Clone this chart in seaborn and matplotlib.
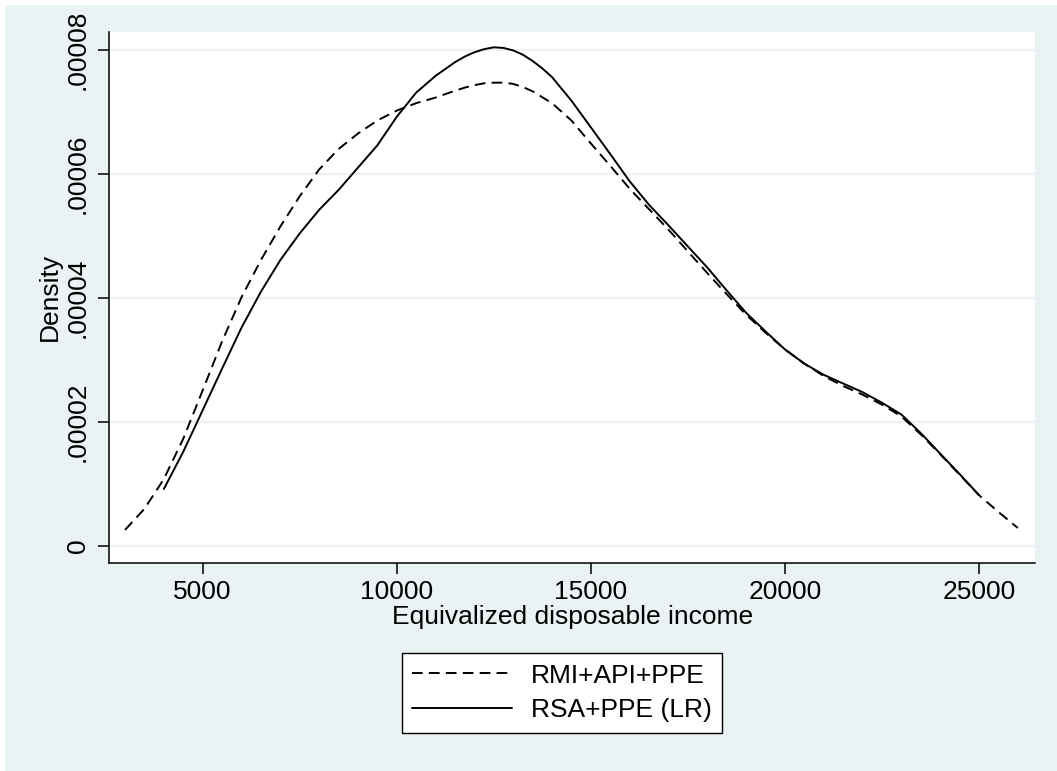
import numpy as np
import pandas as pd
import matplotlib
matplotlib.use('Agg')
import matplotlib.pyplot as plt
from matplotlib.patches import Rectangle
from matplotlib.lines import Line2D
import seaborn as sns

# kernel density estimates (density in 1e-6)
rmi_income = [3000, 3500, 4000, 4500, 5000, 5500, 6000, 6500, 7000, 7500,
              8000, 8500, 9000, 9500, 10000, 10500, 11000, 11500, 11750, 12000,
              12250, 12500, 12750, 13000, 13250, 13500, 14000, 14500, 15000, 15500,
              16000, 16500, 17000, 17500, 18000, 18500, 19000, 19500, 20000, 20500,
              21000, 21500, 22000, 22500, 23000, 23500, 24000, 24500, 25000, 25500,
              26000]
rmi_density = [2.6, 6.0, 10.8, 17.3, 25.1, 33.0, 40.1, 46.1, 51.5, 56.4,
               60.7, 64.0, 66.5, 68.6, 70.2, 71.4, 72.3, 73.4, 73.9, 74.3,
               74.6, 74.7, 74.7, 74.5, 74.0, 73.3, 71.4, 68.6, 64.9, 61.3,
               57.6, 54.3, 51.0, 47.5, 44.0, 40.6, 37.3, 34.4, 31.7, 29.4,
               27.4, 25.8, 24.4, 22.8, 20.9, 18.0, 14.8, 11.5, 8.2, 5.5,
               2.9]

rsa_income = [4000, 4500, 5000, 5500, 6000, 6500, 7000, 7500, 8000, 8500,
              9000, 9500, 10000, 10500, 11000, 11500, 11750, 12000, 12250, 12500,
              12750, 13000, 13250, 13500, 13750, 14000, 14500, 15000, 15500, 16000,
              16500, 17000, 17500, 18000, 18500, 19000, 19500, 20000, 20500, 21000,
              21500, 22000, 22500, 23000, 23500, 24000, 24500, 25000]
rsa_density = [9.2, 15.2, 21.9, 28.6, 35.2, 41.0, 46.1, 50.4, 54.2, 57.4,
               61.0, 64.6, 69.2, 73.1, 75.8, 78.0, 78.9, 79.6, 80.1, 80.4,
               80.3, 79.9, 79.2, 78.2, 77.0, 75.6, 71.8, 67.5, 63.2, 58.8,
               55.0, 51.7, 48.3, 44.9, 41.2, 37.6, 34.6, 31.7, 29.4, 27.6,
               26.2, 24.8, 23.1, 21.2, 18.2, 14.9, 11.6, 8.2]

series_names = ['RMI+API+PPE', 'RSA+PPE (LR)']
x_ticks = [5000, 10000, 15000, 20000, 25000]
y_ticks = [0, 0.00002, 0.00004, 0.00006, 0.00008]
y_tick_labels = ['0', '.00002', '.00004', '.00006', '.00008']

df = pd.concat([
    pd.DataFrame({'income': rmi_income, 'density': np.array(rmi_density) * 1e-6,
                  'series': series_names[0]}),
    pd.DataFrame({'income': rsa_income, 'density': np.array(rsa_density) * 1e-6,
                  'series': series_names[1]}),
])

sns.set_style('white')
plt.rcParams['font.family'] = ['Liberation Sans', 'DejaVu Sans']
plt.rcParams['text.color'] = 'black'
plt.rcParams['axes.labelcolor'] = 'black'
plt.rcParams['xtick.color'] = 'black'
plt.rcParams['ytick.color'] = 'black'

bg = '#eaf2f3'
dash = (5.5, 3.2)
fs = 19

fig = plt.figure(figsize=(10.57, 7.71), dpi=100, facecolor='white')
fig.patches.append(Rectangle((5 / 1057, -0.01), 1.0, 1.01 - 5 / 771,
                             transform=fig.transFigure, facecolor=bg,
                             edgecolor='none', zorder=-10))

ax = fig.add_axes([109.3 / 1057, 1 - 563 / 771, (1035 - 109.3) / 1057, (563 - 31.5) / 771])
ax.set_facecolor('white')

sns.lineplot(data=df, x='income', y='density', style='series',
             dashes={series_names[0]: dash, series_names[1]: ''},
             color='black', linewidth=1.4, estimator=None, sort=False,
             legend=False, ax=ax)

ax.set_xlim(2594, 26443)
ax.set_ylim(-2.74e-6, 8.295e-5)
ax.set_xticks(x_ticks)
ax.set_xticklabels([str(t) for t in x_ticks], fontsize=fs)
ax.set_yticks(y_ticks)
ax.set_yticklabels(y_tick_labels, fontsize=fs, rotation=90, va='center')

ax.grid(axis='y', color=bg, linewidth=1.6)
ax.grid(axis='x', visible=False)
for side in ['top', 'right']:
    ax.spines[side].set_visible(False)
for side in ['left', 'bottom']:
    ax.spines[side].set_color('black')
    ax.spines[side].set_linewidth(1.1)
ax.tick_params(axis='both', direction='out', length=8, width=1.1, color='black',
               left=True, bottom=True)
ax.tick_params(axis='x', pad=4)
ax.tick_params(axis='y', pad=6)

ax.set_xlabel('Equivalized disposable income', fontsize=fs, labelpad=1)
ax.set_ylabel('Density', fontsize=fs)
ax.yaxis.set_label_coords(-0.051, 0.5)

handles = [Line2D([], [], color='black', linewidth=1.4, dashes=dash),
           Line2D([], [], color='black', linewidth=1.4)]
leg = fig.legend(handles, series_names, loc='center',
                 bbox_to_anchor=(562 / 1057, 1 - 693 / 771),
                 fontsize=fs, frameon=True, fancybox=False, framealpha=1,
                 handlelength=3.8, handletextpad=0.7, labelspacing=0.4,
                 borderpad=0.4)
leg.get_frame().set_edgecolor('black')
leg.get_frame().set_linewidth(1.0)
leg.get_frame().set_facecolor('white')

fig.savefig('out.png', dpi=100, facecolor=fig.get_facecolor())
